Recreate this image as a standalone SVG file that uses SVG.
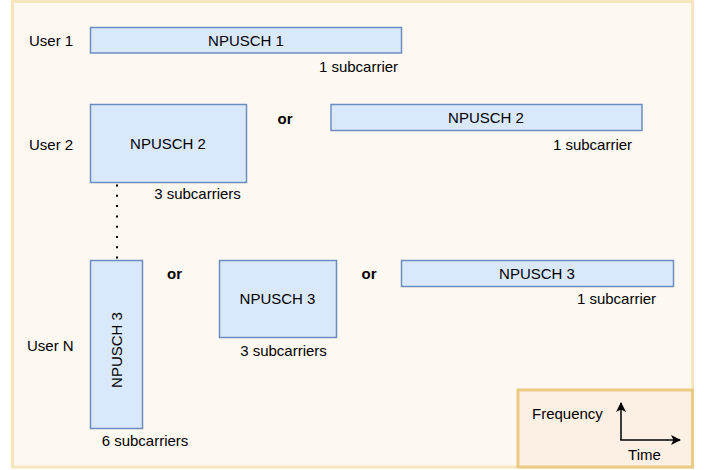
<svg xmlns="http://www.w3.org/2000/svg" width="710" height="470" viewBox="0 0 710 470">
<defs>
<style>
.t{font-family:"Liberation Sans",Arial,Helvetica,sans-serif;font-size:15px;fill:#000}
.c{text-anchor:middle}
.b{font-weight:bold}
.box{fill:#dae8fc;stroke:#6c8ebf;stroke-width:1.5}
</style>
<marker id="arr" viewBox="0 0 10 10" refX="9" refY="5" markerWidth="10" markerHeight="10" markerUnits="userSpaceOnUse" orient="auto">
<path d="M0,0 L10,5 L0,10 L2.5,5 Z" fill="#000"/>
</marker>
</defs>
<rect x="12.5" y="1.5" width="680" height="465.5" fill="#fdf8f1" stroke="#f6e6bd" stroke-width="3"/>
<g id="legend">
<rect x="518" y="390" width="174.5" height="77" fill="#fcefe3" stroke="#ebcb83" stroke-width="3"/>
<text class="t" x="532" y="419">Frequency</text>
<text class="t c" x="644.5" y="460">Time</text>
</g>
<g id="labels">
<text class="t" x="29" y="45.5">User 1</text>
<text class="t" x="29" y="150">User 2</text>
<text class="t" x="27" y="351">User N</text>
<text class="t b c" x="285" y="124">or</text>
<text class="t b c" x="174.5" y="279">or</text>
<text class="t b c" x="369" y="279">or</text>
</g>
<g id="user1-npusch1">
<rect class="box" x="90.5" y="27.5" width="311" height="25.5"/>
<text class="t c" x="246" y="45.5">NPUSCH 1</text>
<text class="t c" x="358.5" y="72">1 subcarrier</text>
</g>
<g id="user2-npusch2-3sc">
<rect class="box" x="90.5" y="104.5" width="156" height="78"/>
<text class="t c" x="168" y="149">NPUSCH 2</text>
<text class="t c" x="197.5" y="199">3 subcarriers</text>
</g>
<g id="user2-npusch2-1sc">
<rect class="box" x="331" y="104.5" width="311" height="26"/>
<text class="t c" x="486" y="123">NPUSCH 2</text>
<text class="t c" x="592.5" y="150">1 subcarrier</text>
</g>
<g id="userN-npusch3-6sc">
<rect class="box" x="90.5" y="260.5" width="52" height="168"/>
<text class="t c" transform="translate(122,350) rotate(-90)">NPUSCH 3</text>
<text class="t c" x="145" y="446">6 subcarriers</text>
</g>
<g id="userN-npusch3-3sc">
<rect class="box" x="219.5" y="260.5" width="117" height="77"/>
<text class="t c" x="277.5" y="304">NPUSCH 3</text>
<text class="t c" x="283.5" y="356">3 subcarriers</text>
</g>
<g id="userN-npusch3-1sc">
<rect class="box" x="401.5" y="260.5" width="272" height="26"/>
<text class="t c" x="537" y="278.5">NPUSCH 3</text>
<text class="t c" x="616.5" y="304">1 subcarrier</text>
</g>
<g id="connectors">
<line x1="117" y1="184.5" x2="117" y2="260" stroke="#000" stroke-width="2" stroke-dasharray="2 8.3"/>
<line x1="621" y1="440" x2="621" y2="403" stroke="#000" stroke-width="1.5" marker-end="url(#arr)"/>
<line x1="620.25" y1="440" x2="680" y2="440" stroke="#000" stroke-width="1.5" marker-end="url(#arr)"/>
</g>
</svg>
